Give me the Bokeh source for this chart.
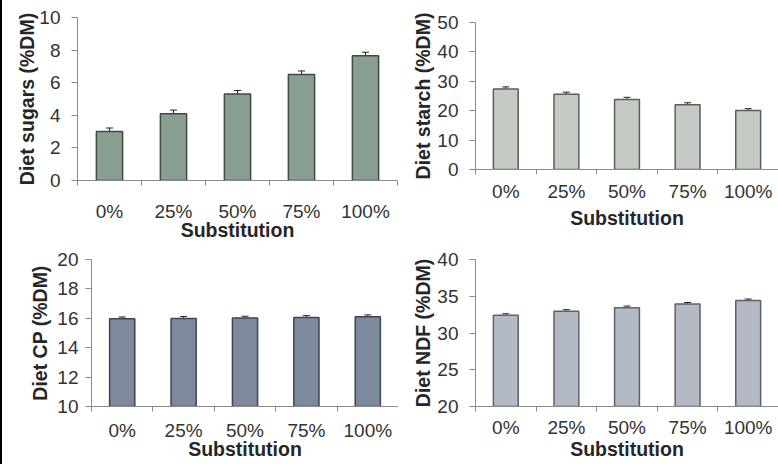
from bokeh.plotting import figure
from bokeh.models import Range1d, FixedTicker, Whisker, TeeHead, ColumnDataSource, Div
from bokeh.layouts import row, column
from bokeh.embed import file_html
from bokeh.resources import INLINE

# ---- data ----
substitution = ["0%", "25%", "50%", "75%", "100%"]

sugars = [3.0, 4.1, 5.3, 6.5, 7.65]
sugars_err = [0.22, 0.22, 0.22, 0.22, 0.22]
sugars_ticks = [0, 2, 4, 6, 8, 10]

starch = [27.4, 25.6, 23.8, 22.0, 20.1]
starch_err = [0.7, 0.7, 0.75, 0.7, 0.6]
starch_ticks = [0, 10, 20, 30, 40, 50]

cp = [15.97, 15.98, 16.02, 16.06, 16.11]
cp_err = [0.12, 0.14, 0.12, 0.12, 0.12]
cp_ticks = [10, 12, 14, 16, 18, 20]

ndf = [32.4, 32.95, 33.45, 33.95, 34.42]
ndf_err = [0.22, 0.22, 0.22, 0.2, 0.2]
ndf_ticks = [20, 25, 30, 35, 40]

FONT = "Liberation Sans"
TICK_COLOR = "#333333"
TITLE_COLOR = "#262626"
AXIS_COLOR = "#8a8a8a"


def panel(values, errs, yticks, ylabel, fill, line, width, height,
          bl, br, bt, bb, ystand, ytstand, xstand, xtstand):
    n = len(substitution)
    centers = [i + 0.5 for i in range(n)]
    bounds = [float(i) for i in range(n + 1)]
    ymin, ymax = yticks[0], yticks[-1]
    src = ColumnDataSource(dict(
        x=centers, top=values,
        upper=[v + e for v, e in zip(values, errs)],
        lower=[v - e for v, e in zip(values, errs)],
    ))
    p = figure(width=width, height=height, output_backend="svg", toolbar_location=None,
               x_range=Range1d(0, n), y_range=Range1d(ymin, ymax),
               min_border_left=bl, min_border_right=br, min_border_top=bt, min_border_bottom=bb)
    p.outline_line_color = None
    p.xgrid.visible = False
    p.ygrid.visible = False
    p.background_fill_color = "white"
    p.border_fill_color = "white"

    p.vbar(x="x", top="top", bottom=ymin, width=0.41, source=src,
           fill_color=fill, line_color=line, line_width=1.5)
    wh = Whisker(source=src, base="x", upper="upper", lower="lower",
                 line_color="#222222", line_width=1,
                 upper_head=TeeHead(size=7, line_color="#222222", line_width=1),
                 lower_head=TeeHead(size=7, line_color="#222222", line_width=1))
    p.add_layout(wh)

    # x axis: labels at category centers, tick marks at category boundaries
    xa = p.xaxis[0]
    xa.ticker = FixedTicker(ticks=centers, minor_ticks=bounds)
    xa.major_label_overrides = {c: s for c, s in zip(centers, substitution)}
    xa.major_tick_out = 0
    xa.major_tick_in = 0
    xa.minor_tick_out = 5
    xa.minor_tick_in = 0
    xa.axis_line_color = AXIS_COLOR
    xa.minor_tick_line_color = AXIS_COLOR
    xa.major_label_text_font = FONT
    xa.major_label_text_font_size = "19px"
    xa.major_label_text_color = TICK_COLOR
    xa.major_label_standoff = xstand
    xa.axis_label = "Substitution"
    xa.axis_label_text_font = FONT
    xa.axis_label_text_font_size = "19.5px"
    xa.axis_label_text_font_style = "bold"
    xa.axis_label_text_color = TITLE_COLOR
    xa.axis_label_standoff = xtstand

    ya = p.yaxis[0]
    ya.ticker = FixedTicker(ticks=yticks, minor_ticks=[])
    ya.major_tick_out = 6
    ya.major_tick_in = 0
    ya.minor_tick_out = 0
    ya.minor_tick_in = 0
    ya.axis_line_color = AXIS_COLOR
    ya.major_tick_line_color = AXIS_COLOR
    ya.major_label_text_font = FONT
    ya.major_label_text_font_size = "19px"
    ya.major_label_text_color = TICK_COLOR
    ya.major_label_standoff = ystand
    ya.axis_label = ylabel
    ya.axis_label_text_font = FONT
    ya.axis_label_text_font_size = "19.5px"
    ya.axis_label_text_font_style = "bold"
    ya.axis_label_text_color = TITLE_COLOR
    ya.axis_label_standoff = ytstand
    return p


tl = panel(sugars, sugars_err, sugars_ticks, "Diet sugars (%DM)", "#8b9f90", "#3f4a43",
           396, 243, 75, 1, 17, 63, 11, -2, 15, -6)
bl = panel(cp, cp_err, cp_ticks, "Diet CP (%DM)", "#7d8a9e", "#3d4454",
           396, 221, 89, 0, 16, 58, 7, 3, 8, -6)
tr = panel(starch, starch_err, starch_ticks, "Diet starch (%DM)", "#c4cbc5", "#5a5f5b",
           380, 231, 77, 0, 22, 62, 11, 0, 6, 2)
br = panel(ndf, ndf_err, ndf_ticks, "Diet NDF (%DM)", "#b3bac5", "#5d6169",
           380, 233, 77, 0, 28, 58, 11, 0, 5, -3)

edge = Div(width=2, height=464, margin=0, styles={"background-color": "#000000"})

layout = row(edge, column(row(tl), row(bl)), column(row(tr), row(br)))

open("out.html", "w").write(file_html(layout, INLINE))
